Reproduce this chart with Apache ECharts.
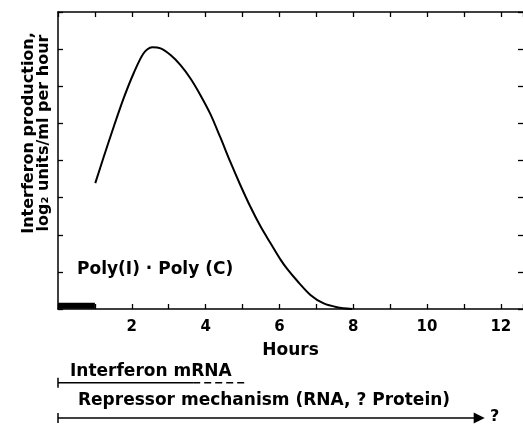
<!DOCTYPE html>
<html><head><meta charset="utf-8">
<script src="https://cdn.jsdelivr.net/npm/echarts@6/dist/echarts.min.js"></script>
<style>html,body{margin:0;padding:0;background:#fff;overflow:hidden}#c{width:526px;height:424px}</style>
</head><body><div id="c"></div>
<script>
// Interferon production curve (hours, log2 units/ml per hour)
const hours = [1.01, 1.24, 1.51, 1.78, 2.05, 2.32, 2.55, 2.78, 3.05, 3.32, 3.59, 3.86, 4.13, 4.40, 4.67, 4.94, 5.21, 5.49, 5.76, 6.03, 6.21, 6.48, 6.84, 7.2, 7.56, 7.97];
const production = [3.39, 4.10, 4.91, 5.68, 6.35, 6.89, 7.05, 7.02, 6.84, 6.57, 6.21, 5.76, 5.25, 4.62, 3.96, 3.34, 2.76, 2.22, 1.77, 1.33, 1.08, 0.76, 0.38, 0.15, 0.05, 0];
// Poly(I)·Poly(C) exposure period (hours)
const stimulusHours = [0, 1];
// Timelines below the axis (hours)
const mrnaSolid = [0, 3.64];
const mrnaDashed = [3.64, 5.08];
const repressorRange = [0, 11.49];
const xTickLabels = [2, 4, 6, 8, 10, 12];

const FONT = 'DejaVu Sans';
const XMAX = 12.6;
const chart = echarts.init(document.getElementById('c'), null, {renderer: 'canvas'});
const axisLine = {show: true, onZero: false, lineStyle: {color: '#000', width: 1.5}};
const tick = {show: true, inside: true, length: 5, lineStyle: {color: '#000', width: 1.3}};
const mrnaY = 27.7, repY = 63;

chart.setOption({
  animation: false,
  backgroundColor: '#fff',
  grid: [
    {left: 58, right: 0, top: 12, height: 297},
    {left: 58, right: 0, top: 355, height: 69}
  ],
  xAxis: [
    {gridIndex: 0, type: 'value', min: 0, max: XMAX, interval: 1, position: 'bottom',
     axisLine, axisTick: tick, splitLine: {show: false},
     axisLabel: {margin: 11, color: '#000', fontFamily: FONT, fontWeight: 'bold', fontSize: 15,
       formatter: v => xTickLabels.includes(v) ? String(v) : ''},
     name: 'Hours', nameLocation: 'middle', nameGap: 33,
     nameTextStyle: {color: '#000', fontFamily: FONT, fontWeight: 'bold', fontSize: 17}},
    {gridIndex: 0, type: 'value', min: 0, max: XMAX, interval: 1, position: 'top',
     axisLine, axisTick: tick, axisLabel: {show: false}, splitLine: {show: false}},
    {gridIndex: 1, type: 'value', min: 0, max: XMAX, show: false}
  ],
  yAxis: [
    {gridIndex: 0, type: 'value', min: 0, max: 8, interval: 1, position: 'left',
     axisLine, axisTick: tick, axisLabel: {show: false}, splitLine: {show: false}},
    {gridIndex: 0, type: 'value', min: 0, max: 8, interval: 1, position: 'right',
     axisLine: {show: false, onZero: false}, axisTick: tick, axisLabel: {show: false}, splitLine: {show: false}},
    {gridIndex: 1, type: 'value', min: 0, max: 69, inverse: true, show: false}
  ],
  series: [
    {type: 'line', xAxisIndex: 0, yAxisIndex: 0, smooth: 0.3, symbol: 'none',
     lineStyle: {color: '#000', width: 2}, data: hours.map((h, i) => [h, production[i]])},
    {type: 'line', xAxisIndex: 0, yAxisIndex: 0, symbol: 'none',
     lineStyle: {color: '#000', width: 6, cap: 'butt'}, data: stimulusHours.map(h => [h, 0.085])},
    {type: 'line', xAxisIndex: 2, yAxisIndex: 2, symbol: 'none', clip: false,
     lineStyle: {color: '#000', width: 1.5}, data: mrnaSolid.map(h => [h, mrnaY])},
    {type: 'line', xAxisIndex: 2, yAxisIndex: 2, symbol: 'none', clip: false,
     lineStyle: {color: '#000', width: 1.5, type: [7, 4]}, data: mrnaDashed.map(h => [h, mrnaY])},
    {type: 'line', xAxisIndex: 2, yAxisIndex: 2, symbol: 'none', clip: false,
     lineStyle: {color: '#000', width: 1.5}, data: [[mrnaSolid[0], mrnaY - 5], [mrnaSolid[0], mrnaY + 5]]},
    {type: 'line', xAxisIndex: 2, yAxisIndex: 2, symbol: 'none', clip: false,
     lineStyle: {color: '#000', width: 1.5}, data: [[repressorRange[0], repY - 5], [repressorRange[0], repY + 5]]},
    {type: 'lines', coordinateSystem: 'cartesian2d', xAxisIndex: 2, yAxisIndex: 2,
     symbol: ['none', 'triangle'], symbolSize: 11,
     lineStyle: {color: '#000', width: 1.5, opacity: 1},
     data: [{coords: [[repressorRange[0], repY], [repressorRange[1] - 0.15, repY]]}]}
  ],
  graphic: [
    {type: 'text', rotation: Math.PI / 2, x: 36, y: 133,
     style: {text: 'Interferon production,\nlog₂ units/ml per hour', fill: '#000',
       font: 'bold 16px ' + FONT, textAlign: 'center', textVerticalAlign: 'middle', lineHeight: 15}},
    {type: 'text', x: 77, y: 270,
     style: {text: 'Poly(I) · Poly (C)', fill: '#000', font: 'bold 17px ' + FONT, textVerticalAlign: 'middle'}},
    {type: 'text', x: 70, y: 372,
     style: {text: 'Interferon mRNA', fill: '#000', font: 'bold 17px ' + FONT, textVerticalAlign: 'middle'}},
    {type: 'text', x: 78, y: 401,
     style: {text: 'Repressor mechanism (RNA, ? Protein)', fill: '#000', font: 'bold 17px ' + FONT, textVerticalAlign: 'middle'}},
    {type: 'text', x: 490, y: 417,
     style: {text: '?', fill: '#000', font: 'bold 16px ' + FONT, textVerticalAlign: 'middle'}}
  ]
});
</script></body></html>
